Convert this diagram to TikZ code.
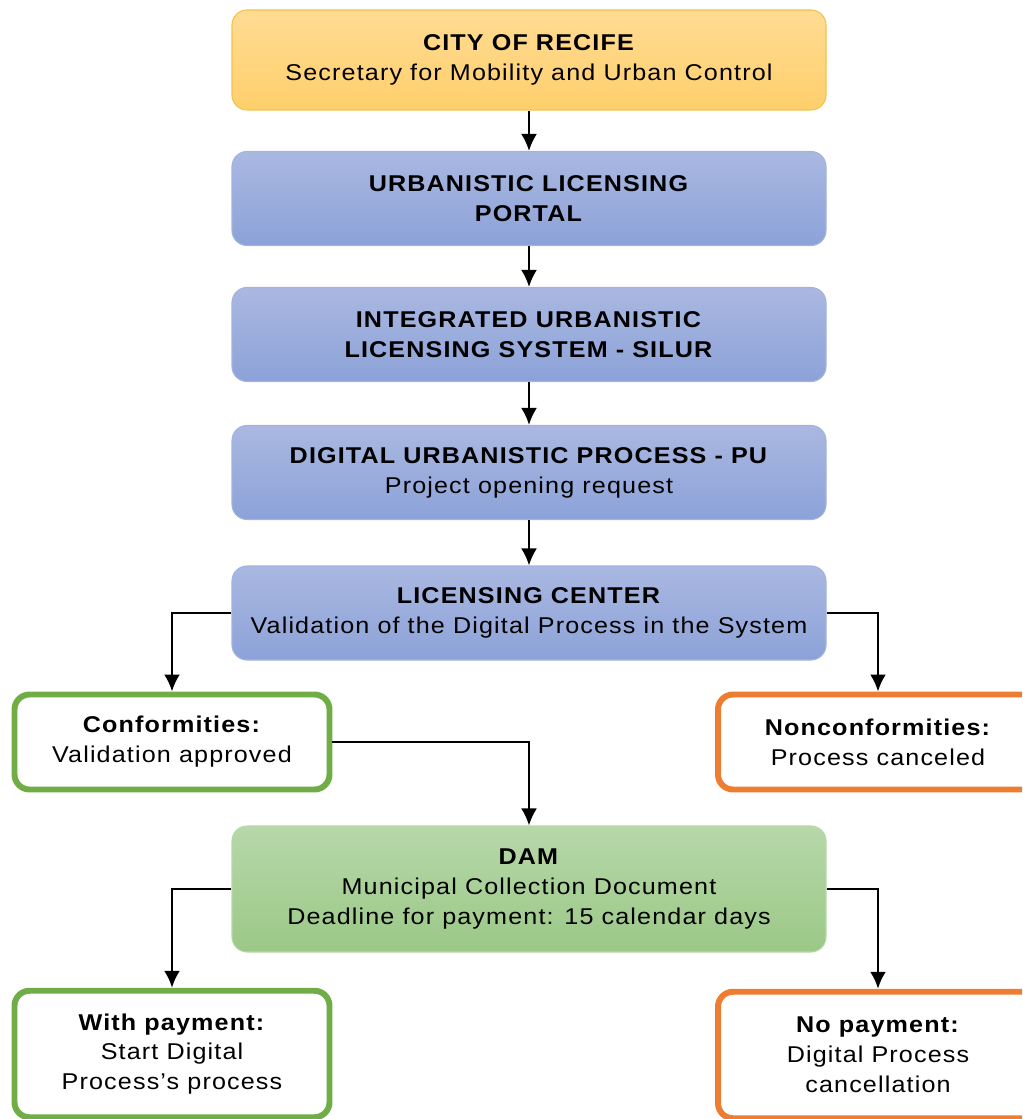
\documentclass[tikz,border=0pt]{standalone}
\usepackage{fontspec}
\setmainfont{Liberation Sans}[FakeStretch=1.1, LetterSpace=5]
\usepackage{xcolor}
\usepackage{tikz}
\usetikzlibrary{calc, positioning, arrows.meta}

\definecolor{cityTop}{HTML}{FFDB93}
\definecolor{cityBot}{HTML}{FFCF6C}
\definecolor{cityLine}{HTML}{F3C24C}
\definecolor{blueTop}{HTML}{AAB8E1}
\definecolor{blueBot}{HTML}{8CA2D8}
\definecolor{blueLine}{HTML}{A3B3DF}
\definecolor{damTop}{HTML}{B7D8A9}
\definecolor{damBot}{HTML}{9BC887}
\definecolor{okLine}{HTML}{70AD47}
\definecolor{badLine}{HTML}{ED7D31}

\tikzset{
    txt/.style={align=center, font=\fontsize{13}{17}\selectfont, inner sep=0pt},
    citybox/.style={txt, rounded corners=0.3cm, minimum width=11.88cm, minimum height=2cm,
        top color=cityTop, bottom color=cityBot, draw=cityLine, line width=0.6pt},
    mainbox/.style={txt, rounded corners=0.3cm, minimum width=11.88cm, minimum height=1.88cm,
        top color=blueTop, bottom color=blueBot, draw=blueLine, line width=0.6pt},
    dambox/.style={txt, rounded corners=0.3cm, minimum width=11.88cm, minimum height=2.52cm,
        top color=damTop, bottom color=damBot, draw=damTop, line width=0.6pt},
    okbox/.style={txt, rounded corners=0.3cm, minimum width=6.3cm, minimum height=1.9cm,
        fill=white, draw=okLine, line width=3.4pt},
    badbox/.style={txt, rounded corners=0.3cm, minimum width=6.3cm, minimum height=1.9cm,
        fill=white, draw=badLine, line width=3.4pt},
    arr/.style={->, line width=1.4pt}
}

\begin{document}
\begin{tikzpicture}[>={Latex[length=3.4mm, width=3.2mm]}]
    % Frame
    \useasboundingbox (0,0) rectangle (20.44,-22.38);
    \clip (0,0) rectangle (20.44,-22.38);
    % Main column
    \node[citybox] (city) at (10.58,-1.2) {\textbf{CITY OF RECIFE}\\Secretary for Mobility and Urban Control};
    \node[mainbox] (portal) at (10.58,-3.97) {\textbf{URBANISTIC LICENSING}\\\textbf{PORTAL}};
    \node[mainbox] (silur) at (10.58,-6.69) {\textbf{INTEGRATED URBANISTIC}\\\textbf{LICENSING SYSTEM - SILUR}};
    \node[mainbox] (pu) at (10.58,-9.45) {\textbf{DIGITAL URBANISTIC PROCESS - PU}\\Project opening request};
    \node[mainbox] (center) at (10.58,-12.26) {\textbf{LICENSING CENTER}\\Validation of the Digital Process in the System};
    % Validation outcomes
    \node[okbox] (conf) at (3.44,-14.84) {\textbf{Conformities:}\\Validation approved};
    \node[badbox, minimum width=6.4cm] (nonconf) at (17.56,-14.84) {\textbf{Nonconformities:}\\Process canceled};
    % Payment
    \node[dambox] (dam) at (10.58,-17.78) {\textbf{DAM}\\Municipal Collection Document\\Deadline for payment: 15 calendar days};
    \node[okbox, minimum height=2.53cm] (pay) at (3.44,-21.08) {\textbf{With payment:}\\Start Digital\\Process’s process};
    \node[badbox, minimum width=6.4cm, minimum height=2.53cm] (nopay) at (17.56,-21.1) {\textbf{No payment:}\\Digital Process\\cancellation};
    % Arrows
    \draw[arr] (city) -- (portal);
    \draw[arr] (portal) -- (silur);
    \draw[arr] (silur) -- (pu);
    \draw[arr] (pu) -- (center);
    \draw[arr] (center.west) -| (conf.north);
    \draw[arr] (center.east) -| (nonconf.north);
    \draw[arr] (conf.east) -| (dam.north);
    \draw[arr] (dam.west) -| (pay.north);
    \draw[arr] (dam.east) -| (nopay.north);
\end{tikzpicture}
\end{document}
